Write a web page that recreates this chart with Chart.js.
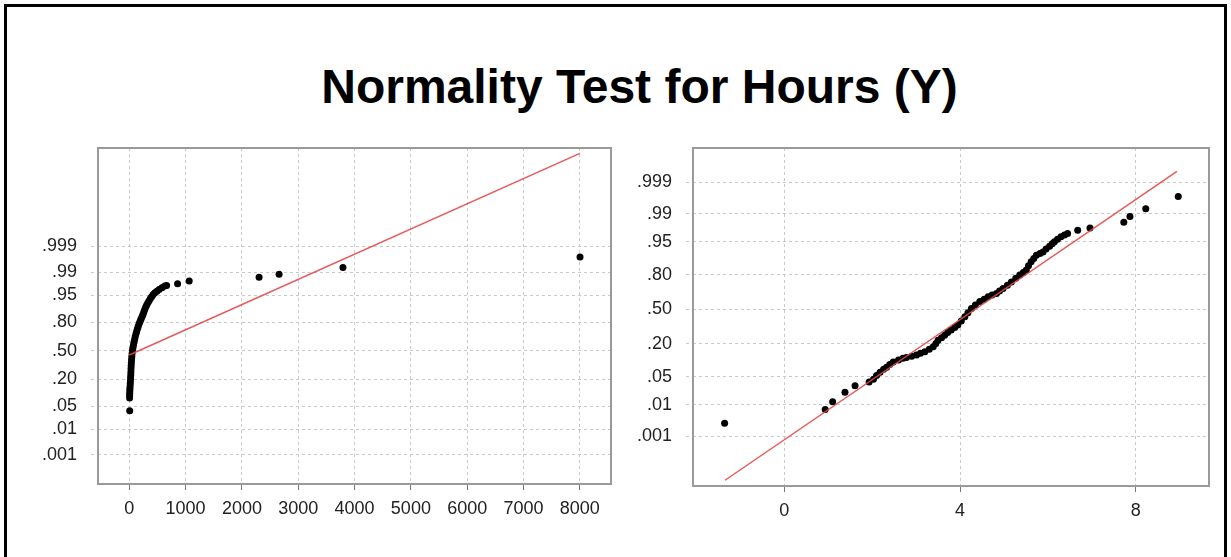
<!DOCTYPE html>
<html>
<head>
<meta charset="utf-8">
<script src="https://cdn.jsdelivr.net/npm/chart.js@4.4.1/dist/chart.umd.min.js"></script>
<style>
  html, body { margin: 0; padding: 0; background: #fff; overflow: hidden; }
  body { width: 1231px; height: 557px; position: relative; font-family: 'Liberation Sans', Arial, sans-serif; }
  #frame { position: absolute; left: 4px; top: 4px; width: 1217px; height: 700px; border: 3px solid #000; border-bottom: none; }
  #title { position: absolute; left: 0; top: 59px; width: 1279px; text-align: center; font-weight: bold; font-size: 48px; color: #000; }
  .panel { position: absolute; top: 140px; height: 380px; }
</style>
</head>
<body>
<div id="frame"></div>
<div id="title">Normality Test for Hours (Y)</div>
<div class="panel" style="left:0px;width:620px"><canvas id="leftChart" width="620" height="380"></canvas></div>
<div class="panel" style="left:620px;width:600px"><canvas id="rightChart" width="600" height="380"></canvas></div>
<script>
// probability axis: normal scores of the cumulative probabilities
const probLabels = ['.001', '.01', '.05', '.20', '.50', '.80', '.95', '.99', '.999'];
const probScores = [-3.090, -2.326, -1.645, -0.842, 0, 0.842, 1.645, 2.326, 3.090];

// left panel: raw hours
const leftTicks = [0, 1000, 2000, 3000, 4000, 5000, 6000, 7000, 8000];
const leftHours = [8, 6, 7, 8, 10, 12, 15, 18, 21, 24, 27, 29, 31, 34, 37, 41, 45, 50, 57, 65, 74, 84, 95, 106, 118, 130, 143, 157, 171, 186, 200, 215, 230, 245, 260, 275, 292, 310, 330, 352, 375, 400, 425, 455, 490, 530, 580, 630, 663, 858, 1064, 2305, 2660, 3794, 8003];
const leftScore = [-1.78, -1.40, -1.33, -1.26, -1.19, -1.12, -1.05, -0.97, -0.89, -0.80, -0.72, -0.63, -0.54, -0.45, -0.36, -0.27, -0.18, -0.09, 0.00, 0.08, 0.16, 0.25, 0.33, 0.41, 0.49, 0.56, 0.63, 0.71, 0.78, 0.84, 0.90, 0.96, 1.02, 1.08, 1.15, 1.22, 1.29, 1.35, 1.42, 1.48, 1.54, 1.60, 1.66, 1.71, 1.76, 1.81, 1.86, 1.91, 1.93, 1.98, 2.06, 2.17, 2.26, 2.46, 2.77];
const leftFitX = [0, 8000];
const leftFitScore = [-0.13, 5.84];

// right panel: log hours
const rightTicks = [0, 4, 8];
const rightLogHours = [-1.36, 0.93, 1.10, 1.38, 1.61, 1.93, 2.03, 2.10, 2.18, 2.26, 2.33, 2.40, 2.48, 2.60, 2.70, 2.78, 2.90, 3.01, 3.10, 3.20, 3.30, 3.39, 3.45, 3.50, 3.58, 3.65, 3.72, 3.80, 3.88, 3.95, 4.03, 4.11, 4.18, 4.26, 4.35, 4.45, 4.55, 4.64, 4.73, 4.83, 4.90, 4.98, 5.08, 5.17, 5.27, 5.36, 5.44, 5.51, 5.56, 5.62, 5.68, 5.74, 5.82, 5.89, 5.96, 6.04, 6.10, 6.15, 6.22, 6.30, 6.38, 6.45, 6.68, 6.96, 7.73, 7.87, 8.23, 8.97];
const rightScore = [-2.77, -2.44, -2.25, -2.02, -1.86, -1.77, -1.70, -1.61, -1.53, -1.46, -1.41, -1.34, -1.28, -1.23, -1.19, -1.17, -1.14, -1.11, -1.07, -1.03, -0.97, -0.91, -0.83, -0.75, -0.69, -0.63, -0.56, -0.50, -0.44, -0.38, -0.28, -0.18, -0.08, 0.02, 0.11, 0.19, 0.25, 0.31, 0.35, 0.39, 0.45, 0.51, 0.59, 0.67, 0.76, 0.84, 0.90, 0.96, 1.06, 1.16, 1.24, 1.32, 1.36, 1.40, 1.47, 1.54, 1.60, 1.65, 1.71, 1.77, 1.81, 1.85, 1.93, 1.98, 2.12, 2.26, 2.45, 2.75];
const rightFitX = [-1.35, 8.94];
const rightFitScore = [-4.16, 3.36];

const gridColor = '#c9c9c9';
const textColor = '#222';
const font = { family: "'Liberation Sans', Arial, sans-serif", size: 18 };

// draws the grey box round the plot area
const boxPlugin = {
    id: 'box',
    afterDraw(chart) {
        const { ctx, chartArea: a } = chart;
        ctx.save();
        ctx.strokeStyle = '#9a9a9a';
        ctx.lineWidth = 2;
        ctx.strokeRect(a.left, a.top, a.right - a.left, a.bottom - a.top);
        ctx.restore();
    }
};

function toPoints(xs, ys) {
    return xs.map((x, i) => ({ x: x, y: ys[i] }));
}

function makeChart(id, opts) {
    return new Chart(document.getElementById(id), {
        type: 'scatter',
        data: {
            datasets: [
                {
                    data: toPoints(opts.fitX, opts.fitY),
                    showLine: true,
                    borderColor: 'rgba(226, 72, 72, 0.9)',
                    borderWidth: 1.5,
                    pointRadius: 0,
                    order: 0
                },
                {
                    data: toPoints(opts.xs, opts.ys),
                    backgroundColor: '#000',
                    borderColor: '#000',
                    pointRadius: 3.5,
                    borderWidth: 0,
                    order: 1
                }
            ]
        },
        options: {
            responsive: false,
            animation: false,
            layout: { padding: { top: 8, right: opts.padRight, left: 0, bottom: 0 } },
            plugins: { legend: { display: false }, tooltip: { enabled: false } },
            scales: {
                x: {
                    type: 'linear',
                    min: opts.xMin,
                    max: opts.xMax,
                    afterBuildTicks: s => { s.ticks = opts.xTicks.map(v => ({ value: v })); },
                    afterFit: s => { s.height = opts.xHeight; s.paddingLeft = 0; s.paddingRight = 0; },
                    grid: { color: gridColor, lineWidth: 1, tickLength: 6, tickColor: '#777', tickBorderDash: [] },
                    border: { display: false, dash: [3, 3] },
                    ticks: {
                        color: textColor, font: font, padding: 8, autoSkip: false, maxRotation: 0,
                        callback: v => String(v)
                    }
                },
                y: {
                    type: 'linear',
                    min: opts.yMin,
                    max: opts.yMax,
                    afterBuildTicks: s => { s.ticks = probScores.map(v => ({ value: v })); },
                    afterFit: s => { s.width = opts.yWidth; s.paddingTop = 0; s.paddingBottom = 0; },
                    grid: { color: gridColor, lineWidth: 1, tickLength: 7, tickColor: gridColor, tickBorderDash: [3, 3] },
                    border: { display: false, dash: [3, 3] },
                    ticks: {
                        color: textColor,
                        font: font,
                        padding: 14,
                        callback: (v, i) => probLabels[i]
                    }
                }
            }
        },
        plugins: [boxPlugin]
    });
}

makeChart('leftChart', {
    xs: leftHours, ys: leftScore, fitX: leftFitX, fitY: leftFitScore,
    xTicks: leftTicks, xMin: -555, xMax: 8553, yMin: -3.95, yMax: 6.0,
    yWidth: 98, xHeight: 36, padRight: 9
});

makeChart('rightChart', {
    xs: rightLogHours, ys: rightScore, fitX: rightFitX, fitY: rightFitScore,
    xTicks: rightTicks, xMin: -2.08, xMax: 9.67, yMin: -4.30, yMax: 3.93,
    yWidth: 73, xHeight: 34, padRight: 11
});
</script>
</body>
</html>
